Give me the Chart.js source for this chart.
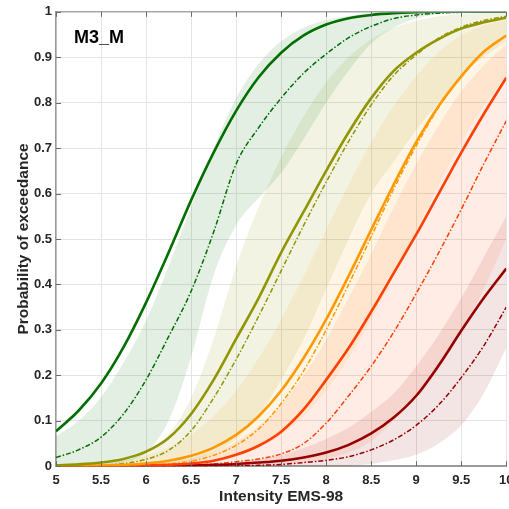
<!DOCTYPE html>
<html>
<head>
<meta charset="utf-8">
<title>M3_M fragility curves</title>
<script src="https://cdn.jsdelivr.net/npm/chart.js@4.4.1/dist/chart.umd.min.js"></script>
<style>
  html, body { margin: 0; padding: 0; background: #fff; overflow: hidden; width: 509px; height: 509px; }
  canvas { display: block; }
</style>
</head>
<body>
<canvas id="fragChart" width="520" height="509"></canvas>
<script>
// Values
const panelLabel = "M3_M";
const intensity = [5, 5.25, 5.5, 5.75, 6, 6.25, 6.5, 6.75, 7, 7.25, 7.5, 7.75, 8, 8.25, 8.5, 8.75, 9, 9.25, 9.5, 9.75, 10];
const xTicks = [5, 5.5, 6, 6.5, 7, 7.5, 8, 8.5, 9, 9.5, 10];
const yTicks = [0, 0.1, 0.2, 0.3, 0.4, 0.5, 0.6, 0.7, 0.8, 0.9, 1];

// DS1 - green
const ds1Mean = [0.077, 0.122, 0.182, 0.262, 0.36, 0.47, 0.585, 0.69, 0.782, 0.856, 0.91, 0.948, 0.972, 0.986, 0.993, 0.997, 0.999, 1, 1, 1, 1];
const ds1Alt  = [0.019, 0.036, 0.064, 0.115, 0.19, 0.285, 0.385, 0.515, 0.665, 0.745, 0.81, 0.865, 0.907, 0.943, 0.968, 0.985, 0.993, 0.997, 0.999, 1, 1];
const ds1Hi   = [0.066, 0.1, 0.152, 0.228, 0.32, 0.44, 0.57, 0.7, 0.81, 0.885, 0.935, 0.965, 0.982, 0.991, 0.996, 0.998, 1, 1, 1, 1, 1];
const ds1Lo   = [0, 0, 0.002, 0.008, 0.03, 0.1, 0.24, 0.42, 0.53, 0.59, 0.645, 0.72, 0.8, 0.87, 0.93, 0.965, 0.985, 0.995, 0.999, 1, 1];

// DS2 - olive
const ds2Mean = [0.002, 0.004, 0.008, 0.016, 0.032, 0.062, 0.115, 0.19, 0.28, 0.37, 0.47, 0.56, 0.65, 0.735, 0.81, 0.87, 0.91, 0.94, 0.963, 0.977, 0.987];
const ds2Alt  = [0, 0.001, 0.002, 0.006, 0.015, 0.035, 0.078, 0.15, 0.235, 0.33, 0.43, 0.53, 0.625, 0.715, 0.795, 0.86, 0.905, 0.942, 0.966, 0.981, 0.99];
const ds2Hi   = [0.001, 0.002, 0.005, 0.012, 0.03, 0.07, 0.15, 0.28, 0.44, 0.57, 0.68, 0.77, 0.845, 0.9, 0.94, 0.965, 0.98, 0.99, 0.995, 0.998, 1];
const ds2Lo   = [0, 0, 0, 0.001, 0.002, 0.005, 0.012, 0.03, 0.06, 0.11, 0.19, 0.28, 0.39, 0.5, 0.6, 0.67, 0.74, 0.8, 0.86, 0.9, 0.935];

// DS3 - orange
const ds3Mean = [0, 0.0005, 0.0013, 0.003, 0.006, 0.012, 0.023, 0.041, 0.069, 0.11, 0.166, 0.238, 0.323, 0.419, 0.52, 0.62, 0.713, 0.793, 0.858, 0.912, 0.948];
const ds3Alt  = [0, 0, 0.0003, 0.001, 0.002, 0.005, 0.011, 0.024, 0.046, 0.082, 0.138, 0.21, 0.3, 0.4, 0.505, 0.61, 0.705, 0.79, 0.858, 0.912, 0.948];
const ds3Hi   = [0.0013, 0.003, 0.006, 0.012, 0.023, 0.041, 0.069, 0.11, 0.166, 0.238, 0.323, 0.419, 0.52, 0.62, 0.713, 0.793, 0.858, 0.912, 0.948, 0.97, 0.983];
const ds3Lo   = [0, 0, 0, 0, 0.0013, 0.003, 0.006, 0.012, 0.023, 0.041, 0.069, 0.11, 0.166, 0.238, 0.323, 0.419, 0.52, 0.62, 0.713, 0.793, 0.858];

// DS4 - orange red
const ds4Mean = [0, 0, 0, 0.001, 0.002, 0.003, 0.006, 0.012, 0.025, 0.045, 0.076, 0.125, 0.19, 0.26, 0.34, 0.425, 0.51, 0.6, 0.69, 0.775, 0.855];
const ds4Alt  = [0, 0, 0, 0, 0.0005, 0.001, 0.002, 0.005, 0.01, 0.016, 0.027, 0.05, 0.095, 0.155, 0.22, 0.295, 0.38, 0.47, 0.565, 0.665, 0.76];
const ds4Hi   = [0, 0.0005, 0.001, 0.002, 0.004, 0.0085, 0.017, 0.031, 0.054, 0.088, 0.135, 0.2, 0.278, 0.37, 0.467, 0.57, 0.665, 0.75, 0.825, 0.882, 0.928];
const ds4Lo   = [0, 0, 0, 0, 0, 0, 0, 0, 0, 0.001, 0.003, 0.008, 0.016, 0.03, 0.055, 0.1, 0.15, 0.215, 0.295, 0.39, 0.5];

// DS5 - dark red
const ds5Mean = [0, 0, 0, 0, 0, 0.001, 0.0015, 0.003, 0.005, 0.008, 0.012, 0.019, 0.03, 0.047, 0.072, 0.107, 0.155, 0.222, 0.298, 0.37, 0.435];
const ds5Alt  = [0, 0, 0, 0, 0, 0, 0, 0, 0.001, 0.002, 0.004, 0.008, 0.013, 0.021, 0.036, 0.058, 0.09, 0.135, 0.195, 0.265, 0.35];
const ds5Hi   = [0, 0, 0, 0, 0, 0.001, 0.002, 0.004, 0.008, 0.014, 0.024, 0.04, 0.06, 0.085, 0.12, 0.16, 0.22, 0.29, 0.37, 0.46, 0.55];
const ds5Lo   = [0, 0, 0, 0, 0, 0, 0, 0, 0, 0, 0, 0, 0, 0.001, 0.005, 0.013, 0.025, 0.05, 0.09, 0.16, 0.26];

const states = [
  { mean: ds1Mean, alt: ds1Alt, hi: ds1Hi, lo: ds1Lo, line: 'rgb(0,110,0)',   band: 'rgba(0,110,0,0.11)' },
  { mean: ds2Mean, alt: ds2Alt, hi: ds2Hi, lo: ds2Lo, line: 'rgb(145,150,0)', band: 'rgba(150,150,0,0.11)' },
  { mean: ds3Mean, alt: ds3Alt, hi: ds3Hi, lo: ds3Lo, line: 'rgb(255,153,0)', band: 'rgba(255,153,0,0.1)' },
  { mean: ds4Mean, alt: ds4Alt, hi: ds4Hi, lo: ds4Lo, line: 'rgb(255,64,0)',  band: 'rgba(255,64,0,0.1)' },
  { mean: ds5Mean, alt: ds5Alt, hi: ds5Hi, lo: ds5Lo, line: 'rgb(150,0,0)',   band: 'rgba(150,0,0,0.1)' }
];

const pts = arr => arr.map((v, i) => ({ x: intensity[i], y: v }));
const font = '"Liberation Sans", Arial, sans-serif';

const datasets = [];
states.forEach(s => {
  // band: upper edge filled down to the next dataset (lower edge)
  datasets.push({ data: pts(s.hi), borderWidth: 0, borderColor: 'transparent', backgroundColor: s.band, fill: '+1', order: 5 });
  datasets.push({ data: pts(s.lo), borderWidth: 0, borderColor: 'transparent', fill: false, order: 5 });
});
states.forEach(s => {
  datasets.push({ data: pts(s.alt), borderColor: s.line, borderWidth: 1.5, borderDash: [5, 2, 1.5, 2], fill: false, order: 1 });
  datasets.push({ data: pts(s.mean), borderColor: s.line, borderWidth: 2.6, fill: false, order: 0 });
});

// inner tick marks, top frame and panel label
const frameExtras = {
  id: 'frameExtras',
  afterDraw(chart) {
    const { ctx, chartArea: a, scales: { x, y } } = chart;
    ctx.save();
    ctx.strokeStyle = '#a6a6a6';
    ctx.lineWidth = 1.5;
    ctx.beginPath();
    ctx.moveTo(a.left, a.top); ctx.lineTo(a.right, a.top);
    ctx.stroke();
    ctx.strokeStyle = '#6b6b6b';
    ctx.lineWidth = 1;
    ctx.beginPath();
    xTicks.forEach(v => {
      const px = Math.round(x.getPixelForValue(v)) + 0.5;
      ctx.moveTo(px, a.bottom); ctx.lineTo(px, a.bottom - 5);
      ctx.moveTo(px, a.top); ctx.lineTo(px, a.top + 5);
    });
    yTicks.forEach(v => {
      const py = Math.round(y.getPixelForValue(v)) + 0.5;
      ctx.moveTo(a.left, py); ctx.lineTo(a.left + 5, py);
    });
    ctx.stroke();
    ctx.fillStyle = '#000';
    ctx.font = 'bold 18px ' + font;
    ctx.textBaseline = 'alphabetic';
    ctx.fillText(panelLabel, a.left + 18, a.top + 31);
    ctx.restore();
  }
};

new Chart(document.getElementById('fragChart').getContext('2d'), {
  type: 'line',
  data: { datasets },
  options: {
    responsive: false,
    animation: false,
    events: [],
    layout: { padding: { top: 11, right: 10.6, left: 0, bottom: 0 } },
    elements: {
      point: { radius: 0 },
      line: { cubicInterpolationMode: 'monotone' }
    },
    plugins: { legend: { display: false }, tooltip: { enabled: false } },
    scales: {
      x: {
        type: 'linear', min: 5, max: 10,
        afterBuildTicks: s => { s.ticks = xTicks.map(v => ({ value: v })); },
        afterFit: s => { s.height = 42.8; },
        ticks: { color: '#262626', font: { family: font, size: 13, weight: 'bold' }, padding: 6.5, maxRotation: 0, callback: v => String(v) },
        grid: { color: '#e4e4e4', lineWidth: 1, drawTicks: false },
        border: { color: '#9a9a9a', width: 2 },
        title: { display: true, text: 'Intensity EMS-98', color: '#262626', font: { family: font, size: 15.5, weight: 'bold' }, padding: { top: 0, bottom: 2.7 } }
      },
      y: {
        type: 'linear', min: 0, max: 1,
        afterBuildTicks: s => { s.ticks = yTicks.map(v => ({ value: v })); },
        afterFit: s => { s.width = 56; },
        ticks: { color: '#262626', font: { family: font, size: 13, weight: 'bold' }, padding: 4, callback: v => String(v) },
        grid: { color: '#e4e4e4', lineWidth: 1, drawTicks: false },
        border: { color: '#9a9a9a', width: 1.5 },
        title: { display: true, text: 'Probability of exceedance', color: '#262626', font: { family: font, size: 15.5, weight: 'bold' }, padding: { top: 14.7, bottom: 0 } }
      }
    }
  },
  plugins: [frameExtras]
});
</script>
</body>
</html>
